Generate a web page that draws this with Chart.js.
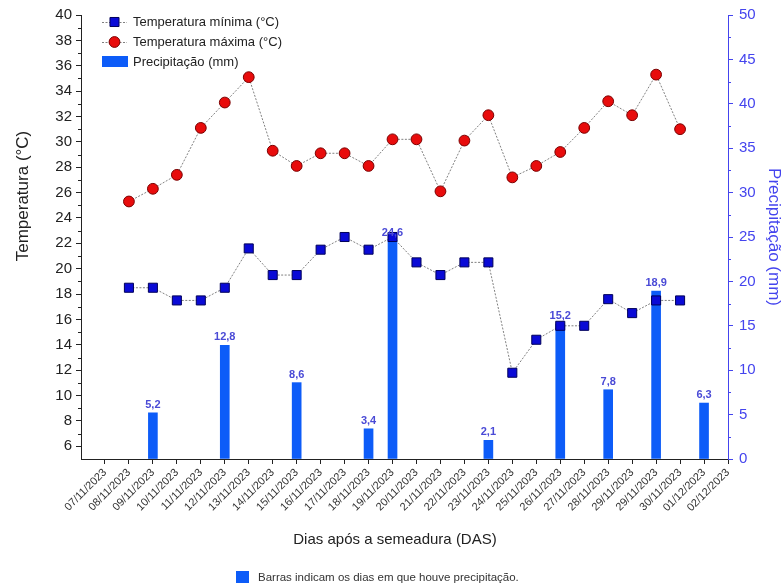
<!DOCTYPE html>
<html>
<head>
<meta charset="utf-8">
<script src="https://cdn.jsdelivr.net/npm/chart.js@4.4.1/dist/chart.umd.min.js"></script>
<style>
  html, body { margin: 0; padding: 0; background: #ffffff; }
  #wrap { width: 784px; height: 588px; }
</style>
</head>
<body>
<div id="wrap"><canvas id="c" width="784" height="588"></canvas></div>
<script>
// Datas do período (eixo X); o dia 29/11 aparece duas vezes na série original
const dias = [
  '07/11/2023', '08/11/2023', '09/11/2023', '10/11/2023', '11/11/2023', '12/11/2023',
  '13/11/2023', '14/11/2023', '15/11/2023', '16/11/2023', '17/11/2023', '18/11/2023',
  '19/11/2023', '20/11/2023', '21/11/2023', '22/11/2023', '23/11/2023', '24/11/2023',
  '25/11/2023', '26/11/2023', '27/11/2023', '28/11/2023', '29/11/2023', '29/11/2023',
  '30/11/2023', '01/12/2023', '02/12/2023'
];

// Temperatura mínima diária (°C)
const tempMin = [
  null, 18.5, 18.5, 17.5, 17.5, 18.5, 21.6, 19.5, 19.5, 21.5, 22.5, 21.5, 22.5,
  20.5, 19.5, 20.5, 20.5, 11.8, 14.4, 15.5, 15.5, 17.6, 16.5, 17.5, 17.5, null, null
];

// Temperatura máxima diária (°C)
const tempMax = [
  null, 25.3, 26.3, 27.4, 31.1, 33.1, 35.1, 29.3, 28.1, 29.1, 29.1, 28.1, 30.2,
  30.2, 26.1, 30.1, 32.1, 27.2, 28.1, 29.2, 31.1, 33.2, 32.1, 35.3, 31.0, null, null
];

// Precipitação diária (mm); null = dia sem chuva
const precip = [
  null, null, 5.2, null, null, 12.8, null, null, 8.6, null, null, 3.4, 24.6,
  null, null, null, 2.1, null, null, 15.2, null, 7.8, null, 18.9, null, 6.3, null
];

// Marcas dos eixos Y
const tempTicks = [6, 8, 10, 12, 14, 16, 18, 20, 22, 24, 26, 28, 30, 32, 34, 36, 38, 40];
const precTicks = [0, 5, 10, 15, 20, 25, 30, 35, 40, 45, 50];

const FONT = "'Liberation Sans', Arial, Helvetica, sans-serif";
const AZUL_EIXO = '#4444ee';
const AZUL_BARRA = '#0d5cf8';
const COR_MIN = '#0a0ad6';
const COR_MAX = '#e80c0c';
const COR_LINHA = '#808080';

Chart.defaults.font.family = FONT;
Chart.defaults.color = '#222';

const toPoints = arr => arr
  .map((v, i) => (v == null ? null : { x: i, y: v }))
  .filter(Boolean);

const fmt = v => v.toFixed(1).replace('.', ',');

const estiloMin = { pointStyle: 'rect', radius: 6.4, rotation: 0, borderWidth: 1 };
const estiloMax = { pointStyle: 'circle', radius: 5.4, rotation: 0, borderWidth: 1 };

// Rótulos das barras, marcas secundárias, títulos, legenda e nota
const decor = {
  id: 'decor',
  afterDraw(chart) {
    const ctx = chart.ctx;
    const area = chart.chartArea;
    const sy = chart.scales.y;
    const sy1 = chart.scales.y1;
    ctx.save();

    // marcas secundárias do eixo de temperatura
    ctx.strokeStyle = '#222';
    ctx.lineWidth = 1;
    ctx.beginPath();
    for (let v = 7; v < 40; v += 2) {
      const p = Math.round(sy.getPixelForValue(v)) + 0.5;
      ctx.moveTo(area.left - 3, p);
      ctx.lineTo(area.left, p);
    }
    ctx.stroke();

    // marcas secundárias do eixo de precipitação
    ctx.strokeStyle = AZUL_EIXO;
    ctx.beginPath();
    for (let v = 2.5; v < 50; v += 5) {
      const p = Math.round(sy1.getPixelForValue(v)) + 0.5;
      ctx.moveTo(area.right, p);
      ctx.lineTo(area.right + 3, p);
    }
    ctx.stroke();

    // valores de precipitação acima das barras
    const meta = chart.getDatasetMeta(2);
    ctx.font = 'bold 11px ' + FONT;
    ctx.fillStyle = '#4a4ad6';
    ctx.textAlign = 'center';
    ctx.textBaseline = 'alphabetic';
    meta.data.forEach((el, i) => {
      const v = meta._parsed[i].y;
      ctx.fillText(fmt(v), el.x, el.y - 5);
    });

    // título do eixo de temperatura
    ctx.fillStyle = '#222';
    ctx.font = '17px ' + FONT;
    ctx.textAlign = 'center';
    ctx.textBaseline = 'middle';
    ctx.save();
    ctx.translate(23, 196);
    ctx.rotate(-Math.PI / 2);
    ctx.fillText('Temperatura (°C)', 0, 0);
    ctx.restore();

    // título do eixo X
    ctx.font = '15px ' + FONT;
    ctx.fillText('Dias após a semeadura (DAS)', 395, 540);

    // legenda
    const lx1 = 102, lx2 = 127, lxm = 114.5, tx = 133;
    const rows = [22, 42, 62];
    ctx.font = '13px ' + FONT;
    ctx.textAlign = 'left';
    ctx.fillStyle = '#222';
    [0, 1].forEach(k => {
      const y = rows[k];
      ctx.save();
      ctx.strokeStyle = COR_LINHA;
      ctx.lineWidth = 1;
      ctx.setLineDash([2, 1.5]);
      ctx.beginPath();
      ctx.moveTo(lx1, y + 0.5);
      ctx.lineTo(lx2, y + 0.5);
      ctx.stroke();
      ctx.setLineDash([]);
      if (k === 0) {
        ctx.fillStyle = COR_MIN;
        ctx.strokeStyle = '#00005a';
        Chart.helpers.drawPoint(ctx, estiloMin, lxm, y);
      } else {
        ctx.fillStyle = COR_MAX;
        ctx.strokeStyle = '#7a0000';
        Chart.helpers.drawPoint(ctx, estiloMax, lxm, y);
      }
      ctx.restore();
    });
    ctx.fillText(chart.data.datasets[0].label, tx, rows[0]);
    ctx.fillText(chart.data.datasets[1].label, tx, rows[1]);
    ctx.fillStyle = AZUL_BARRA;
    ctx.fillRect(lx1, rows[2] - 6, lx2 - lx1 + 1, 11);
    ctx.fillStyle = '#222';
    ctx.fillText(chart.data.datasets[2].label, tx, rows[2]);

    // nota de rodapé
    ctx.fillStyle = AZUL_BARRA;
    ctx.fillRect(236, 571, 13, 12);
    ctx.fillStyle = '#333';
    ctx.font = '11.5px ' + FONT;
    ctx.fillText('Barras indicam os dias em que houve precipitação.', 258, 577.5);

    ctx.restore();
  }
};

new Chart(document.getElementById('c'), {
  type: 'line',
  data: {
    datasets: [
      {
        label: 'Temperatura mínima (°C)',
        type: 'line',
        data: toPoints(tempMin),
        yAxisID: 'y',
        borderColor: COR_LINHA,
        borderWidth: 1,
        borderDash: [2, 1.5],
        tension: 0,
        pointStyle: 'rect',
        pointRadius: estiloMin.radius,
        pointBackgroundColor: COR_MIN,
        pointBorderColor: '#00005a',
        pointBorderWidth: 1,
        order: 0
      },
      {
        label: 'Temperatura máxima (°C)',
        type: 'line',
        data: toPoints(tempMax),
        yAxisID: 'y',
        borderColor: COR_LINHA,
        borderWidth: 1,
        borderDash: [2, 1.5],
        tension: 0,
        pointStyle: 'circle',
        pointRadius: estiloMax.radius,
        pointBackgroundColor: COR_MAX,
        pointBorderColor: '#7a0000',
        pointBorderWidth: 1,
        order: 0
      },
      {
        label: 'Precipitação (mm)',
        type: 'bar',
        data: toPoints(precip),
        yAxisID: 'y1',
        backgroundColor: AZUL_BARRA,
        borderWidth: 0,
        barThickness: 9,
        order: 1
      }
    ]
  },
  options: {
    responsive: false,
    animation: false,
    events: [],
    layout: { padding: { top: 15, left: 0, right: 0, bottom: 0 } },
    plugins: { legend: { display: false }, tooltip: { enabled: false } },
    scales: {
      x: {
        type: 'linear',
        min: -1,
        max: 26,
        offset: false,
        afterBuildTicks: s => { s.ticks = dias.map((_, i) => ({ value: i })); },
        afterFit: s => { s.height = 129; },
        grid: { drawOnChartArea: false, tickLength: 5, color: '#222', offset: false },
        border: { color: '#222', width: 1 },
        ticks: {
          autoSkip: false,
          minRotation: 45,
          maxRotation: 45,
          padding: 2,
          color: '#333',
          font: { size: 11 },
          callback: v => dias[v] ?? ''
        }
      },
      y: {
        position: 'left',
        min: 5,
        max: 40,
        afterBuildTicks: s => { s.ticks = tempTicks.map(v => ({ value: v })); },
        afterFit: s => { s.width = 81; },
        grid: { drawOnChartArea: false, tickLength: 5, color: '#222' },
        border: { color: '#222', width: 1 },
        ticks: { padding: 4, color: '#222', font: { size: 15 } }
      },
      y1: {
        position: 'right',
        min: 0,
        max: 50,
        afterBuildTicks: s => { s.ticks = precTicks.map(v => ({ value: v })); },
        afterFit: s => { s.width = 56; },
        grid: { drawOnChartArea: false, tickLength: 5, color: AZUL_EIXO },
        border: { color: AZUL_EIXO, width: 1 },
        ticks: { padding: 6, color: AZUL_EIXO, font: { size: 15 } },
        title: {
          display: true,
          text: 'Precipitação (mm)',
          color: AZUL_EIXO,
          font: { size: 17 },
          padding: { top: 0, bottom: 2 }
        }
      }
    }
  },
  plugins: [decor]
});
</script>
</body>
</html>
